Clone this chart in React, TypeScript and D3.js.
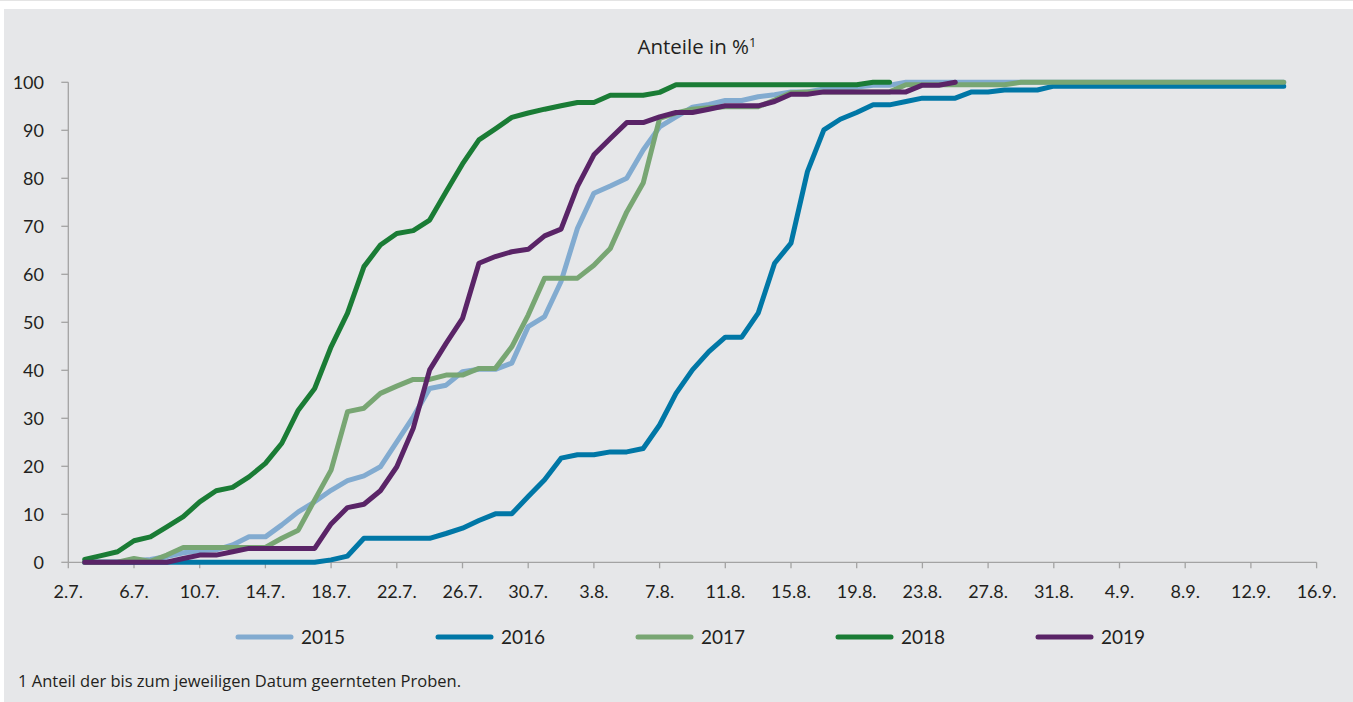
import * as d3 from "d3";

// daily values from 3.7. onwards (share of harvested samples, %)
const startDate = new Date(Date.UTC(2019, 6, 3));
const axisStart = new Date(Date.UTC(2019, 6, 2));
const axisEnd = new Date(Date.UTC(2019, 8, 16));

const years = ["2015", "2016", "2017", "2018", "2019"];
const colors = ["#82abd0", "#0077a6", "#78a673", "#1a7c35", "#5a2467"];

const v2015 = [
  0, 0, 0, 0.3, 0.6, 1.2, 2.0, 2.4, 2.6, 3.6,
  5.3, 5.3, 7.8, 10.5, 12.6, 15.0, 17.0, 18.0, 19.9, 25.1,
  30.3, 36.2, 36.9, 39.7, 40.2, 40.2, 41.5, 49.1, 51.2, 58.5,
  69.6, 76.9, 78.4, 80.0, 85.9, 90.7, 92.8, 94.8, 95.4, 96.2,
  96.2, 97.0, 97.4, 98.0, 98.0, 98.6, 98.6, 99.0, 99.4, 99.4,
  100, 100, 100, 100, 100, 100, 100, 100, 100, 100,
  100, 100, 100, 100, 100, 100, 100, 100, 100, 100,
  100, 100, 100, 100,
];
const v2016 = [
  0, 0, 0, 0, 0, 0, 0, 0, 0, 0,
  0, 0, 0, 0, 0, 0.5, 1.3, 5.0, 5.0, 5.0,
  5.0, 5.0, 6.0, 7.1, 8.7, 10.1, 10.1, 13.7, 17.2, 21.7,
  22.4, 22.4, 23.0, 23.0, 23.7, 28.6, 35.2, 40.1, 43.9, 46.9,
  46.9, 51.9, 62.3, 66.5, 81.4, 90.1, 92.3, 93.7, 95.3, 95.3,
  96.0, 96.7, 96.7, 96.7, 98.0, 98.0, 98.4, 98.4, 98.4, 99.2,
  99.2, 99.2, 99.2, 99.2, 99.2, 99.2, 99.2, 99.2, 99.2, 99.2,
  99.2, 99.2, 99.2, 99.2,
];
const v2017 = [
  0, 0, 0, 0.8, 0.2, 1.5, 3.1, 3.1, 3.1, 3.1,
  3.1, 3.1, 5.0, 6.7, 13.0, 19.2, 31.4, 32.1, 35.2, 36.7,
  38.1, 38.1, 39.0, 39.0, 40.4, 40.4, 44.9, 51.5, 59.2, 59.2,
  59.2, 61.9, 65.4, 73.0, 79.0, 92.5, 93.6, 94.4, 94.7, 94.9,
  94.9, 94.9, 96.3, 97.8, 98.0, 98.0, 98.0, 98.0, 98.0, 98.0,
  99.5, 99.5, 99.5, 99.5, 99.5, 99.5, 99.5, 100, 100, 100,
  100, 100, 100, 100, 100, 100, 100, 100, 100, 100,
  100, 100, 100, 100,
];
const v2018 = [
  0.6, 1.4, 2.2, 4.5, 5.3, 7.4, 9.5, 12.6, 14.9, 15.6,
  17.8, 20.6, 24.8, 31.7, 36.2, 44.9, 51.9, 61.6, 66.1, 68.5,
  69.1, 71.3, 77.2, 83.0, 88.0, 90.3, 92.7, 93.6, 94.4, 95.1,
  95.8, 95.8, 97.3, 97.3, 97.3, 97.9, 99.5, 99.5, 99.5, 99.5,
  99.5, 99.5, 99.5, 99.5, 99.5, 99.5, 99.5, 99.5, 100, 100,
];
const v2019 = [
  0, 0, 0, 0, 0, 0, 0.8, 1.5, 1.5, 2.2,
  2.9, 2.9, 2.9, 2.9, 2.9, 8.0, 11.4, 12.1, 14.9, 19.9,
  27.9, 40.1, 45.6, 50.8, 62.3, 63.7, 64.7, 65.2, 68.0, 69.4,
  78.3, 84.9, 88.3, 91.6, 91.6, 92.8, 93.7, 93.7, 94.4, 95.1,
  95.1, 95.1, 96.0, 97.5, 97.5, 98.0, 98.0, 98.0, 98.0, 98.0,
  98.0, 99.4, 99.4, 100,
];
const seriesValues = [v2015, v2016, v2017, v2018, v2019];

const yTicks = [0, 10, 20, 30, 40, 50, 60, 70, 80, 90, 100];

const W = 1353;
const H = 702;
const font = "Lato, 'Open Sans', sans-serif";
const wideFont = "'Open Sans', 'Noto Sans', sans-serif";
const textColor = "#231f20";
const axisColor = "#a3a3a3";

export default function App() {
  const x = d3.scaleUtc().domain([axisStart, axisEnd]).range([68.3, 1316.6]);
  const y = d3.scaleLinear().domain([0, 100]).range([562.3, 82.3]);

  const xTicks = d3.utcDay.range(axisStart, d3.utcDay.offset(axisEnd, 1), 4);
  const fmt = (d: Date) => `${d.getUTCDate()}.${d.getUTCMonth() + 1}.`;

  const line = d3
    .line<[Date, number]>()
    .x((d) => x(d[0]))
    .y((d) => y(d[1]));

  const series = seriesValues.map((vals) =>
    vals.map((v, i) => [d3.utcDay.offset(startDate, i), v] as [Date, number])
  );

  return (
    <div style={{ position: "absolute", left: 0, top: 0 }}>
      <svg width={W} height={H} style={{ display: "block" }} fontFamily={font}>
        <rect x={0} y={0} width={W} height={H} fill="#ffffff" />
        <line x1={0} x2={W} y1={0.5} y2={0.5} stroke="#e4e4e4" />
        <rect x={4} y={9} width={W - 4} height={H - 9} fill="#e6e7e9" />

        <text x={697} y={54} textAnchor="middle" fontSize={20.5} fontFamily={wideFont} fill={textColor}>
          Anteile in %<tspan dy={-7} fontSize={13}>1</tspan>
        </text>

        {/* y axis */}
        <line x1={x(axisStart)} x2={x(axisStart)} y1={y(100)} y2={y(0)} stroke={axisColor} strokeWidth={1.3} />
        {yTicks.map((t) => (
          <g key={t}>
            <line x1={x(axisStart) - 7} x2={x(axisStart)} y1={y(t)} y2={y(t)} stroke={axisColor} strokeWidth={1.3} />
            <text x={44} y={y(t)} dy="0.35em" textAnchor="end" fontSize={18} fill={textColor}>
              {t}
            </text>
          </g>
        ))}

        {/* x axis */}
        <line x1={x(axisStart)} x2={x(axisEnd)} y1={y(0)} y2={y(0)} stroke={axisColor} strokeWidth={1.3} />
        {xTicks.map((t) => (
          <g key={t.getTime()}>
            <line x1={x(t)} x2={x(t)} y1={y(0)} y2={y(0) + 6} stroke={axisColor} strokeWidth={1.3} />
            <text x={x(t)} y={597.5} textAnchor="middle" fontSize={18} fill={textColor}>
              {fmt(t)}
            </text>
          </g>
        ))}

        {/* series */}
        {series.map((s, i) => (
          <path
            key={years[i]}
            d={line(s) ?? ""}
            fill="none"
            stroke={colors[i]}
            strokeWidth={5}
            strokeLinejoin="round"
            strokeLinecap="round"
          />
        ))}

        {/* legend */}
        {years.map((yr, i) => (
          <g key={yr} transform={`translate(${238 + i * 200},637)`}>
            <line x1={0} x2={53} y1={0} y2={0} stroke={colors[i]} strokeWidth={5} strokeLinecap="round" />
            <text x={63} y={7} fontSize={19} fill={textColor}>
              {yr}
            </text>
          </g>
        ))}

        <text x={18} y={687} fontSize={16.5} fontFamily={wideFont} fill={textColor}>
          1 Anteil der bis zum jeweiligen Datum geernteten Proben.
        </text>
      </svg>
    </div>
  );
}
